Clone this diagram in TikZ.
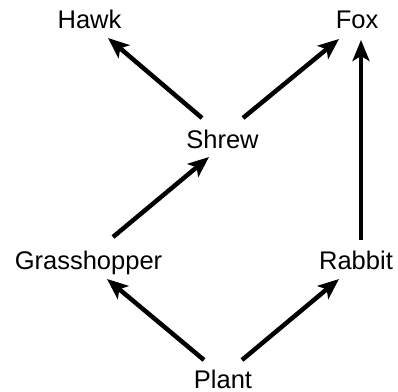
\documentclass[tikz,border=0pt]{standalone}
\usepackage{fontspec}
\setmainfont{Liberation Sans}
\usetikzlibrary{arrows.meta}
\begin{document}
\begin{tikzpicture}[x=1pt,y=1pt,
  species/.style={anchor=base, inner sep=0pt, font=\fontsize{25.5}{30}\selectfont},
  eats/.style={line width=4.5pt, -{Stealth[length=21pt,width=17pt,inset=5pt]}}]
  \useasboundingbox (0,0) rectangle (398,391);
  % organisms of the food web
  \node[species] (hawk)  at (89.5,362) {Hawk};
  \node[species] (fox)   at (357,362)  {Fox};
  \node[species] (shrew) at (222.5,242) {Shrew};
  \node[species] (grass) at (88.5,122) {Grasshopper};
  \node[species] (rabbit) at (356,122) {Rabbit};
  \node[species] (plant) at (223,3)    {Plant};
  % energy flow
  \draw[eats] ([shift={(-20.5,31)}]shrew.base) -- ([shift={(18.5,-9)}]hawk.base);
  \draw[eats] ([shift={(20.5,31)}]shrew.base) -- ([shift={(-18,-10)}]fox.base);
  \draw[eats] ([shift={(24.5,32)}]grass.base) -- ([shift={(-13.5,-8)}]shrew.base);
  \draw[eats] ([shift={(-19,28)}]plant.base) -- ([shift={(18.5,-10)}]grass.base);
  \draw[eats] ([shift={(19,28)}]plant.base) -- ([shift={(-17,-10)}]rabbit.base);
  \draw[eats] ([shift={(5,29)}]rabbit.base) -- ([shift={(4,-11)}]fox.base);
\end{tikzpicture}
\end{document}
